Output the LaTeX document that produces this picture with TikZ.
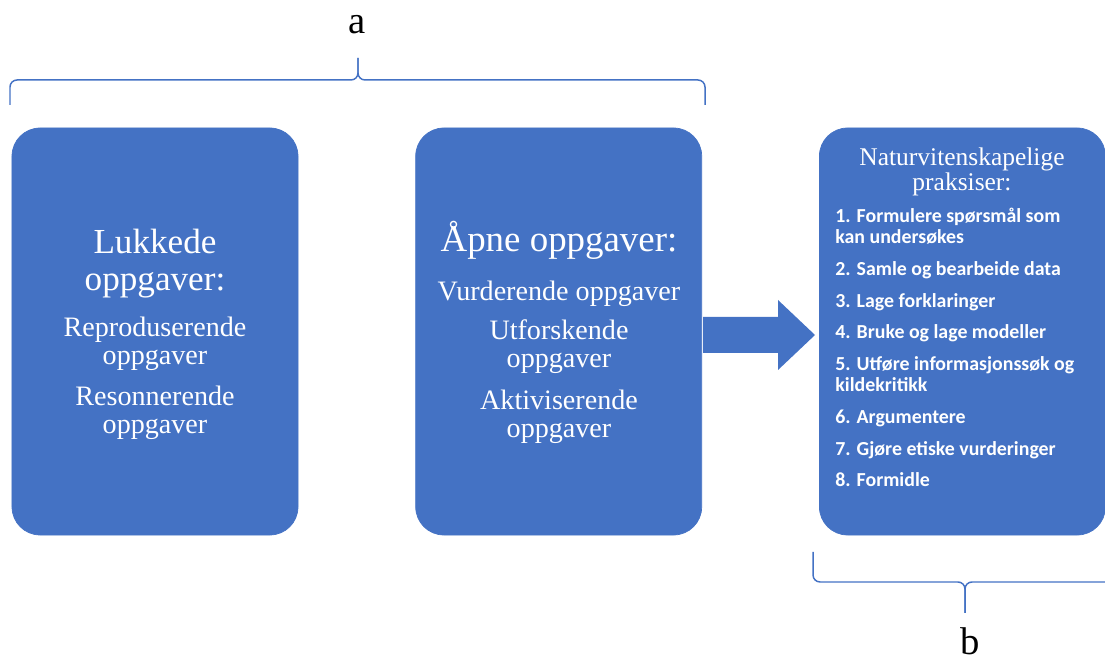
\documentclass[tikz,border=0pt]{standalone}
\usepackage{fontspec}
\setmainfont{Liberation Serif}
\newfontfamily\listfont{Carlito}
\usetikzlibrary{positioning}
\definecolor{boxblue}{HTML}{4472C4}

\tikzset{
  taskbox/.style={fill=boxblue, draw=boxblue, rounded corners=16pt,
    minimum width=57.2mm, minimum height=81.4mm, inner sep=0pt},
  headtext/.style={text=white, align=center, inner sep=0pt,
    font=\fontsize{20}{21}\selectfont},
  subtext/.style={text=white, align=center, inner sep=0pt,
    font=\fontsize{16}{15.8}\selectfont},
  smallhead/.style={text=white, align=center, inner sep=0pt,
    font=\fontsize{14.5}{13}\selectfont},
  listtext/.style={text=white, align=left, inner sep=0pt,
    font=\listfont\bfseries\fontsize{11.3}{12.3}\selectfont},
  labeltext/.style={inner sep=0pt, font=\fontsize{22}{24}\selectfont},
  brace/.style={draw=boxblue, line width=0.85pt, rounded corners=4pt},
}

\begin{document}
\begin{tikzpicture}[x=0.2mm, y=-0.2mm]
  \useasboundingbox (0,0) rectangle (1105,661);

  % the three boxes
  \node[taskbox] (closed) at (155,331.5) {};
  \node[taskbox, right=23.4mm of closed] (open) {};
  \node[taskbox, right=23.4mm of open] (practice) {};

  % texts in the boxes
  \node[headtext] (closedhead) at (155,263.5) {Lukkede\\oppgaver:};
  \node[subtext] (closedsub) at (155,378.5)
    {Reproduserende\\oppgaver\\[7.5pt]Resonnerende\\oppgaver};
  \node[headtext, anchor=base, font=\fontsize{21}{22}\selectfont]
    (openhead) at (559,252) {Åpne oppgaver:};
  \node[subtext] (opensub) at (559,362.5)
    {Vurderende oppgaver\\[6.5pt]Utforskende\\oppgaver\\[8.2pt]Aktiviserende\\oppgaver};
  \node[smallhead, anchor=north] (practicehead) at (962,147.5)
    {Naturvitenskapelige\\praksiser:};
  \node[listtext, anchor=north west] (practicelist) at (835,207.5)
    {1. Formulere spørsmål som\\kan undersøkes\\[5.7pt]
     2. Samle og bearbeide data\\[5.7pt]
     3. Lage forklaringer\\[5.7pt]
     4. Bruke og lage modeller\\[5.7pt]
     5. Utføre informasjonssøk og\\kildekritikk\\[5.7pt]
     6. Argumentere\\[5.7pt]
     7. Gjøre etiske vurderinger\\[5.7pt]
     8. Formidle};

  % block arrow
  \fill[boxblue] (703,317) -- (778,317) -- (778,300) -- (815,335)
    -- (778,370) -- (778,353) -- (703,353) -- cycle;

  % braces
  \draw[brace] (10,105) -- (10,80) -- (358,80) -- (358,58);
  \draw[brace] (358,58) -- (358,80) -- (705,80) -- (705,105);
  \draw[brace] (813,552) -- (813,582) -- (965,582) -- (965,613);
  \draw[brace] (965,613) -- (965,582) -- (1105,582);

  \node[labeltext] (alabel) at (357,25) {a};
  \node[labeltext] (blabel) at (970,641) {b};
\end{tikzpicture}
\end{document}
